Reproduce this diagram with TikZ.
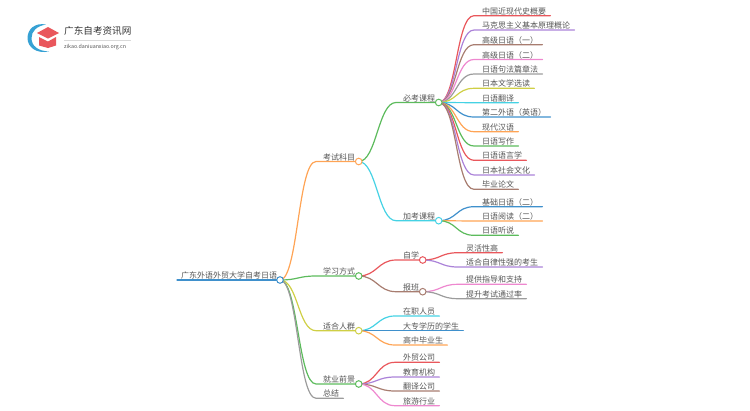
\documentclass[tikz,border=0pt]{standalone}
\usepackage{fontspec}
\setmainfont{Noto Sans CJK SC}
\usetikzlibrary{backgrounds}
\definecolor{cred}{HTML}{E9575C}
\definecolor{cpur}{HTML}{AB82D8}
\definecolor{cbro}{HTML}{A87D70}
\definecolor{cpin}{HTML}{EE88CF}
\definecolor{cgra}{HTML}{9C9C9C}
\definecolor{coli}{HTML}{CFCF45}
\definecolor{ccya}{HTML}{45D2E4}
\definecolor{cblu}{HTML}{3F90CC}
\definecolor{cora}{HTML}{FFA455}
\definecolor{cgre}{HTML}{5CBB5C}
\definecolor{ctxt}{HTML}{555555}
\tikzset{
  lbl/.style={inner xsep=4pt,inner ysep=0.3pt,text height=7pt,text depth=1pt,text=ctxt,font=\fontsize{8}{8}\selectfont,anchor=south west},
  inner/.style={inner xsep=0pt,inner ysep=0.3pt,text height=7pt,text depth=1pt,text=ctxt,font=\fontsize{8}{8}\selectfont,anchor=south west},
  dot/.style={circle,draw=#1,fill=white,line width=1pt,minimum size=6.6pt,inner sep=0pt},
  wire/.style={draw=#1,line width=1.2pt,line cap=round},
}
% leaf: name, colour, parent, y, left x, text
\newcommand{\leafitem}[6]{%
  \node[lbl] (#1) at (#5,#4) {\hspace*{4pt}#6};
  \begin{scope}[on background layer]
    \draw[wire=#2] (#3.center) .. controls +(18,0) and +(-18,0) .. (#1.south west) -- (#1.south east);
  \end{scope}
}
% branch: name, colour, parent, y, left x, pad, text; adds a dot named name-d
\newcommand{\branchitem}[7]{%
  \node[inner] (#1) at (#5,#4) {\hspace*{#6pt}#7};
  \node[dot=#2,right=-0.5pt] (#1-d) at (#1.south east) {};
  \begin{scope}[on background layer]
    \draw[wire=#2] (#3.center) .. controls +(18,0) and +(-18,0) .. (#1.south west) -- (#1-d.center);
  \end{scope}
}
\begin{document}
\begin{tikzpicture}[x=1pt,y=-1pt]
\useasboundingbox (0,0) rectangle (750,410);
% logo
\fill[cblu!85!cyan] (46,24.5) .. controls (35,22.5) and (27.5,29) .. (27.5,38)
  .. controls (27.5,47) and (36,54) .. (49,51.5)
  .. controls (38,51) and (31.5,46) .. (31.5,38)
  .. controls (31.5,31) and (37,26) .. (46,24.5) -- cycle;
\fill[cred] (37,33) -- (48,27) -- (59,33) -- (48,38.5) -- cycle;
\fill[cred] (39,37) -- (48,41.5) -- (56,37) -- (56,45.5) -- (48,48) -- (39,45.5) -- cycle;
\node[anchor=west,inner sep=0pt,text=black!80,font=\fontsize{9.6}{10}\selectfont] (brand) at (64,31) {广东自考资讯网};
\draw[black!15,line width=0.5pt] (64,40.5) -- (131,40.5);
\node[anchor=west,inner sep=0pt,text=ctxt,font=\fontsize{5.3}{6}\selectfont] (site) at (64,47) {zikao.daniuanxiao.org.cn};
% root
\node[lbl,inner xsep=0pt] (root) at (177,280) {\hspace*{4pt}广东外语外贸大学自考日语};
\node[dot=cblu] (root-d) at (280,280) {};
\begin{scope}[on background layer]
  \draw[wire=cblu] (root.south west) -- (root-d.center);
\end{scope}
% level 1
\branchitem{exam}{cora}{root-d}{161.5}{316}{7}{考试科目}
\branchitem{study}{cgre}{root-d}{276}{316}{7}{学习方式}
\branchitem{crowd}{coli}{root-d}{330.7}{316}{7}{适合人群}
\branchitem{job}{cgre}{root-d}{384}{316}{7}{就业前景}
\node[lbl] (sum) at (316,398.3) {\hspace*{3pt}总结};
\begin{scope}[on background layer]
  \draw[wire=cgra] (root-d.center) .. controls +(18,0) and +(-18,0) .. (sum.south west) -- (sum.south east);
\end{scope}
% level 2
\branchitem{must}{cgre}{exam-d}{102.5}{396}{7}{必考课程}
\branchitem{extra}{ccya}{exam-d}{220.7}{396}{7}{加考课程}
\branchitem{self}{cred}{study-d}{260}{396}{7}{自学}
\branchitem{class}{cbro}{study-d}{291.7}{396}{7}{报班}
% required courses
\leafitem{m1}{cred}{must-d}{15.7}{474}{中国近现代史概要}
\leafitem{m2}{cpur}{must-d}{30}{474}{马克思主义基本原理概论}
\leafitem{m3}{cbro}{must-d}{44.7}{474}{高级日语（一）}
\leafitem{m4}{cpin}{must-d}{59.5}{474}{高级日语（二）}
\leafitem{m5}{cgra}{must-d}{74}{474}{日语句法篇章法}
\leafitem{m6}{coli}{must-d}{88.3}{474}{日本文学选读}
\leafitem{m7}{ccya}{must-d}{102.7}{474}{日语翻译}
\leafitem{m8}{cblu}{must-d}{117}{474}{第二外语（英语）}
\leafitem{m9}{cora}{must-d}{131.7}{474}{现代汉语}
\leafitem{m10}{cgre}{must-d}{146}{474}{日语写作}
\leafitem{m11}{cred}{must-d}{160.3}{474}{日语语言学}
\leafitem{m12}{cpur}{must-d}{175}{474}{日本社会文化}
\leafitem{m13}{cbro}{must-d}{189.3}{474}{毕业论文}
% extra courses
\leafitem{e1}{cblu}{extra-d}{206.7}{474}{基础日语（二）}
\leafitem{e2}{cora}{extra-d}{221}{474}{日语阅读（二）}
\leafitem{e3}{cgre}{extra-d}{235.3}{474}{日语听说}
% study
\leafitem{s1}{cred}{self-d}{252.7}{458}{灵活性高}
\leafitem{s2}{cpur}{self-d}{267}{458}{适合自律性强的考生}
\leafitem{s3}{cpin}{class-d}{284.3}{458}{提供指导和支持}
\leafitem{s4}{cgra}{class-d}{298.7}{458}{提升考试通过率}
% crowd
\leafitem{c1}{ccya}{crowd-d}{316}{395}{在职人员}
\leafitem{c2}{cblu}{crowd-d}{330.7}{395}{大专学历的学生}
\leafitem{c3}{cora}{crowd-d}{345}{395}{高中毕业生}
% jobs
\leafitem{j1}{cred}{job-d}{362.3}{395}{外贸公司}
\leafitem{j2}{cpur}{job-d}{377}{395}{教育机构}
\leafitem{j3}{cbro}{job-d}{391}{395}{翻译公司}
\leafitem{j4}{cpin}{job-d}{405.7}{395}{旅游行业}
\end{tikzpicture}
\end{document}
